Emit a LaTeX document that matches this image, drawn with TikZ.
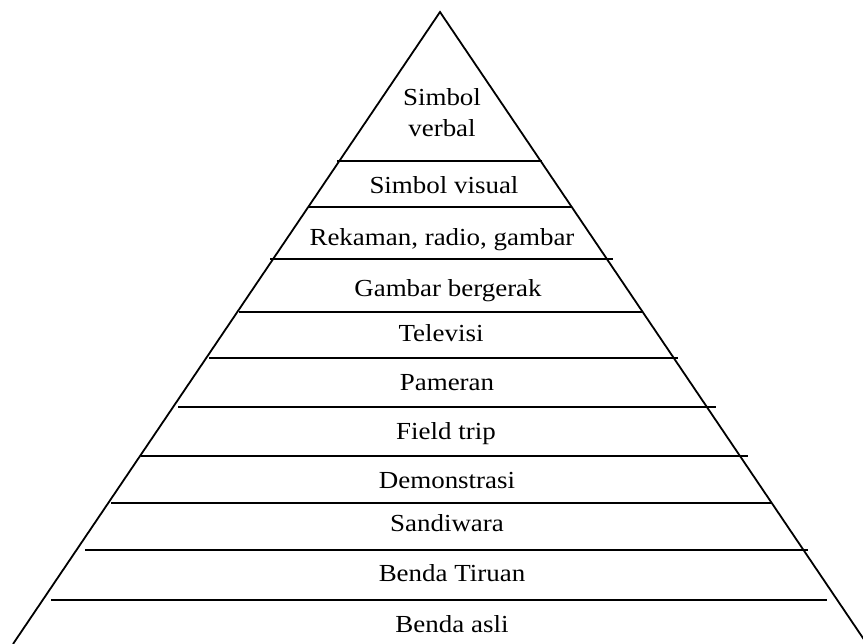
\documentclass[tikz,border=0pt]{standalone}
\usepackage{fontspec}
\setmainfont{Liberation Serif}[FakeStretch=1.1]
\tikzset{
    lvl/.style={anchor=base, inner sep=0pt, font=\fontsize{24.5}{31}\selectfont, align=center},
    rung/.style={line width=1.9pt},
    side/.style={line width=1.8pt}
}
\begin{document}
\begin{tikzpicture}[x=1pt, y=-1pt]
            \useasboundingbox (0, 0) rectangle (863, 644);

            %%sides
            \coordinate (apex) at (440, 12);
            \coordinate (footl) at (13, 644);
            \coordinate (footr) at (867, 644);
            \draw[side] (footl) to (apex) to (footr);

            %%rungs
            \draw[rung](337, 161) to (542, 161);
            \draw[rung](309, 207) to (572, 207);
            \draw[rung](270, 259) to (613, 259);
            \draw[rung](239, 312) to (643, 312);
            \draw[rung](209, 358) to (678, 358);
            \draw[rung](178, 407) to (716, 407);
            \draw[rung](141, 456) to (748, 456);
            \draw[rung](111, 503) to (772, 503);
            \draw[rung](85, 550) to (808, 550);
            \draw[rung](51, 600) to (827, 600);

            %%labels
                \node[lvl] (verbal) at (442, 137){Simbol\\verbal};
                \node[lvl] (visual) at (444, 194){Simbol visual};
                \node[lvl] (rekaman) at (442, 246){Rekaman, radio, gambar};
                \node[lvl] (bergerak) at (448, 297){Gambar bergerak};
                \node[lvl] (televisi) at (441, 342){Televisi};
                \node[lvl] (pameran) at (447, 391){Pameran};
                \node[lvl] (fieldtrip) at (446, 440){Field trip};
                \node[lvl] (demonstrasi) at (447, 489){Demonstrasi};
                \node[lvl] (sandiwara) at (447, 532){Sandiwara};
                \node[lvl] (tiruan) at (452, 581){Benda Tiruan};
                \node[lvl] (asli) at (452, 632){Benda asli};

        \end{tikzpicture}
\end{document}
